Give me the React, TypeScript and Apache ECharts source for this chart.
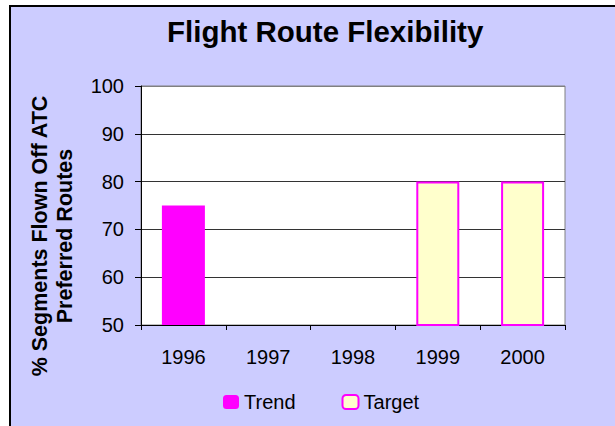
import React, { useEffect, useRef } from "react";
import * as echarts from "echarts";

const categories = ["1996", "1997", "1998", "1999", "2000"];
const trendValues: (number | null)[] = [75, null, null, null, null];
const targetValues: (number | null)[] = [null, null, null, 80, 80];
const titleText = "Flight Route Flexibility";
const yAxisTitle = ["% Segments Flown Off ATC", "Preferred Routes"];

export default function App() {
  const ref = useRef<HTMLDivElement>(null);
  useEffect(() => {
    if (!ref.current) return;
    const chart = echarts.init(ref.current, null, { renderer: "svg" });
    const font = "Arial, 'Liberation Sans', sans-serif";
    chart.setOption({
      animation: false,
      backgroundColor: "transparent",
      title: {
        text: titleText,
        left: 167,
        top: 16,
        padding: 0,
        textStyle: { fontFamily: font, fontSize: 29.5, fontWeight: "bold", color: "#000" },
      },
      legend: {
        left: 223,
        top: 392,
        padding: 0,
        itemWidth: 16,
        itemHeight: 14,
        itemGap: 46,
        textStyle: { fontFamily: font, fontSize: 20, color: "#000" },
        data: ["Trend", "Target"],
      },
      grid: {
        left: 141,
        top: 86,
        right: 50,
        bottom: 101,
        show: true,
        backgroundColor: "#fff",
        borderColor: "#808080",
        borderWidth: 1,
      },
      graphic: [
        {
          type: "text",
          x: 52,
          y: 236,
          rotation: Math.PI / 2,
          style: {
            text: yAxisTitle.join("\n"),
            font: `bold 21.5px ${font}`,
            fill: "#000",
            align: "center",
            verticalAlign: "middle",
            lineHeight: 25,
          },
        },
      ],
      xAxis: {
        type: "category",
        data: categories,
        boundaryGap: true,
        axisLine: { lineStyle: { color: "#000", width: 1 } },
        axisTick: { show: true, length: 5, lineStyle: { color: "#000" } },
        axisLabel: { fontFamily: font, fontSize: 20, color: "#000", margin: 22 },
      },
      yAxis: {
        type: "value",
        min: 50,
        max: 100,
        interval: 10,
        axisLine: { show: true, lineStyle: { color: "#000", width: 1 } },
        axisTick: { show: true, length: 6, lineStyle: { color: "#000" } },
        axisLabel: { fontFamily: font, fontSize: 20, color: "#000", margin: 17 },
        splitLine: {
          show: true,
          lineStyle: { color: ["#333", "#333", "#333", "#333", "#333", "#808080"], width: 1 },
        },
      },
      series: [
        {
          name: "Trend",
          type: "bar",
          data: trendValues,
          barWidth: 43,
          barGap: "-100%",
          itemStyle: { color: "#FF00FF" },
        },
        {
          name: "Target",
          type: "bar",
          data: targetValues,
          barWidth: 43,
          barGap: "-100%",
          itemStyle: { color: "#FFFFCC", borderColor: "#FF00FF", borderWidth: 2 },
        },
      ],
    });
    return () => chart.dispose();
  }, []);

  return (
    <div style={{ position: "fixed", left: 0, top: 0, width: 615, height: 426, background: "#fff", overflow: "hidden" }}>
      <div
        style={{
          position: "absolute",
          left: 9,
          top: 5,
          width: 620,
          height: 440,
          background: "#CCCCFF",
          borderLeft: "2px solid #000",
          borderTop: "2px solid #000",
        }}
      />
      <div ref={ref} style={{ position: "absolute", left: 0, top: 0, width: 615, height: 426 }} />
    </div>
  );
}
